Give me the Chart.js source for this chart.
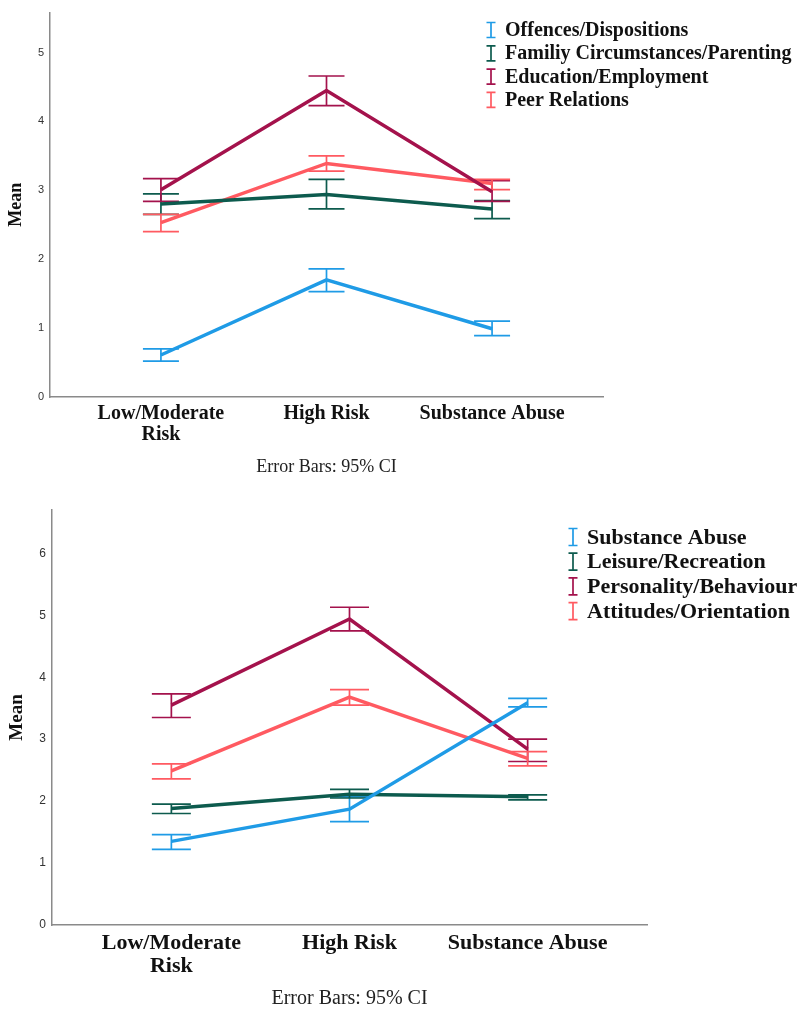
<!DOCTYPE html>
<html>
<head>
<meta charset="utf-8">
<script src="https://cdn.jsdelivr.net/npm/chart.js@4.4.0/dist/chart.umd.min.js"></script>
<style>
  body { margin: 0; background: #fff; }
  canvas { display: block; }
</style>
</head>
<body>
<canvas id="topChart" width="801" height="490"></canvas>
<canvas id="bottomChart" width="801" height="521"></canvas>
<script>
// categories shared by both panels
const groups = [['Low/Moderate', 'Risk'], 'High Risk', 'Substance Abuse'];

// top panel: means and 95% CI bounds
const topNames = ['Offences/Dispositions', 'Familiy Circumstances/Parenting', 'Education/Employment', 'Peer Relations'];
const offencesMean = [0.61, 1.70, 0.99];
const offencesLow = [0.52, 1.53, 0.89];
const offencesHigh = [0.70, 1.86, 1.10];
const familyMean = [2.80, 2.94, 2.73];
const familyLow = [2.65, 2.73, 2.59];
const familyHigh = [2.95, 3.16, 2.85];
const educationMean = [3.01, 4.45, 2.98];
const educationLow = [2.84, 4.23, 2.84];
const educationHigh = [3.17, 4.66, 3.14];
const peerMean = [2.53, 3.39, 3.10];
const peerLow = [2.40, 3.28, 3.01];
const peerHigh = [2.65, 3.50, 3.16];
const topTicks = [0, 1, 2, 3, 4, 5];

// bottom panel
const bottomNames = ['Substance Abuse', 'Leisure/Recreation', 'Personality/Behaviour', 'Attitudes/Orientation'];
const substanceMean = [1.35, 1.87, 3.59];
const substanceLow = [1.22, 1.67, 3.52];
const substanceHigh = [1.46, 2.07, 3.66];
const leisureMean = [1.88, 2.11, 2.07];
const leisureLow = [1.80, 2.05, 2.02];
const leisureHigh = [1.95, 2.19, 2.10];
const personalityMean = [3.55, 4.94, 2.84];
const personalityLow = [3.35, 4.75, 2.64];
const personalityHigh = [3.73, 5.13, 3.00];
const attitudesMean = [2.49, 3.68, 2.69];
const attitudesLow = [2.36, 3.55, 2.57];
const attitudesHigh = [2.60, 3.80, 2.80];
const bottomTicks = [0, 1, 2, 3, 4, 5, 6];

const colors = ['#1f9be6', '#0d5b4e', '#a4124c', '#ff5a61'];
const serif = '"Liberation Serif", "Times New Roman", serif';

// draws the CI whiskers under the lines
const errorBars = {
  id: 'errorBars',
  beforeDatasetsDraw(chart, args, opts) {
    const { ctx, scales: { x, y } } = chart;
    ctx.save();
    ctx.lineWidth = 1.7;
    chart.data.datasets.forEach(ds => {
      ctx.strokeStyle = ds.borderColor;
      ds.ciLow.forEach((lo, i) => {
        const px = x.getPixelForValue(i + 1);
        const yl = y.getPixelForValue(lo);
        const yh = y.getPixelForValue(ds.ciHigh[i]);
        ctx.beginPath();
        ctx.moveTo(px, yl); ctx.lineTo(px, yh);
        ctx.moveTo(px - opts.cap, yl); ctx.lineTo(px + opts.cap, yl);
        ctx.moveTo(px - opts.cap, yh); ctx.lineTo(px + opts.cap, yh);
        ctx.stroke();
      });
    });
    ctx.restore();
  }
};

// legend with the little I-shaped whisker icon
const ciLegend = {
  id: 'ciLegend',
  afterDraw(chart, args, opts) {
    const ctx = chart.ctx;
    ctx.save();
    ctx.font = 'bold ' + opts.size + 'px ' + serif;
    ctx.textBaseline = 'middle';
    chart.data.datasets.forEach((ds, i) => {
      const cy = opts.y + i * opts.step;
      ctx.strokeStyle = ds.borderColor;
      ctx.lineWidth = 1.7;
      ctx.beginPath();
      ctx.moveTo(opts.x, cy - opts.h); ctx.lineTo(opts.x, cy + opts.h);
      ctx.moveTo(opts.x - 4.5, cy - opts.h); ctx.lineTo(opts.x + 4.5, cy - opts.h);
      ctx.moveTo(opts.x - 4.5, cy + opts.h); ctx.lineTo(opts.x + 4.5, cy + opts.h);
      ctx.stroke();
      ctx.fillStyle = '#111';
      ctx.fillText(ds.label, opts.x + 14, cy + 1);
    });
    ctx.restore();
  }
};

function series(names, means, lows, highs) {
  return names.map((name, k) => ({
    label: name,
    data: means[k].map((v, i) => ({ x: i + 1, y: v })),
    ciLow: lows[k],
    ciHigh: highs[k],
    borderColor: colors[k],
    borderWidth: 3.5,
    pointRadius: 0,
    tension: 0,
    fill: false
  }));
}

function makeChart(id, datasets, yMax, yTicks, s) {
  return new Chart(document.getElementById(id), {
    type: 'line',
    data: { datasets },
    options: {
      responsive: false,
      animation: false,
      devicePixelRatio: 1,
      layout: { padding: { top: s.top, right: s.right, left: 0, bottom: 0 } },
      plugins: {
        legend: { display: false },
        tooltip: { enabled: false },
        errorBars: { cap: s.cap },
        ciLegend: s.legend
      },
      scales: {
        x: {
          type: 'linear',
          min: 0.33,
          max: 3.67,
          grid: { display: false, drawTicks: false },
          border: { color: '#8a8a8a', width: 1.5 },
          afterBuildTicks: ax => { ax.ticks = [1, 2, 3].map(v => ({ value: v })); },
          afterFit: ax => { ax.height = s.xHeight; },
          ticks: {
            maxRotation: 0,
            autoSkip: false,
            padding: s.tickPad,
            color: '#111',
            font: { family: serif, size: s.catSize, weight: 'bold', lineHeight: 1.05 },
            callback: v => groups[v - 1]
          },
          title: {
            display: true,
            text: 'Error Bars: 95% CI',
            color: '#222',
            font: { family: serif, size: s.noteSize, lineHeight: 1.2 },
            padding: { top: 0, bottom: s.notePad }
          }
        },
        y: {
          min: 0,
          max: yMax,
          grid: { display: false, drawTicks: false },
          border: { color: '#8a8a8a', width: 1.5 },
          afterBuildTicks: ax => { ax.ticks = yTicks.map(v => ({ value: v })); },
          afterFit: ax => { ax.width = s.yWidth; },
          ticks: {
            padding: 6,
            color: '#333',
            font: { family: 'Arial, "Liberation Sans", sans-serif', size: s.tickSize }
          },
          title: {
            display: true,
            text: 'Mean',
            color: '#111',
            font: { family: serif, size: s.meanSize, weight: 'bold' },
            padding: { top: 6, bottom: 0 }
          }
        }
      }
    },
    plugins: [errorBars, ciLegend]
  });
}

makeChart('topChart',
  series(topNames,
    [offencesMean, familyMean, educationMean, peerMean],
    [offencesLow, familyLow, educationLow, peerLow],
    [offencesHigh, familyHigh, educationHigh, peerHigh]),
  5.58, topTicks,
  { top: 10, right: 198, yWidth: 50, xHeight: 93, tickPad: 6, catSize: 20, noteSize: 18, notePad: 12,
    tickSize: 11, meanSize: 18, cap: 18,
    legend: { x: 491, y: 30, step: 23.3, size: 20, h: 7.5 } });

makeChart('bottomChart',
  series(bottomNames,
    [substanceMean, leisureMean, personalityMean, attitudesMean],
    [substanceLow, leisureLow, personalityLow, attitudesLow],
    [substanceHigh, leisureHigh, personalityHigh, attitudesHigh]),
  6.70, bottomTicks,
  { top: 20, right: 154, yWidth: 52, xHeight: 86, tickPad: 7, catSize: 22, noteSize: 20, notePad: 0,
    tickSize: 12, meanSize: 19, cap: 19.5,
    legend: { x: 573, y: 47, step: 24.7, size: 22, h: 8.5 } });
</script>
</body>
</html>
